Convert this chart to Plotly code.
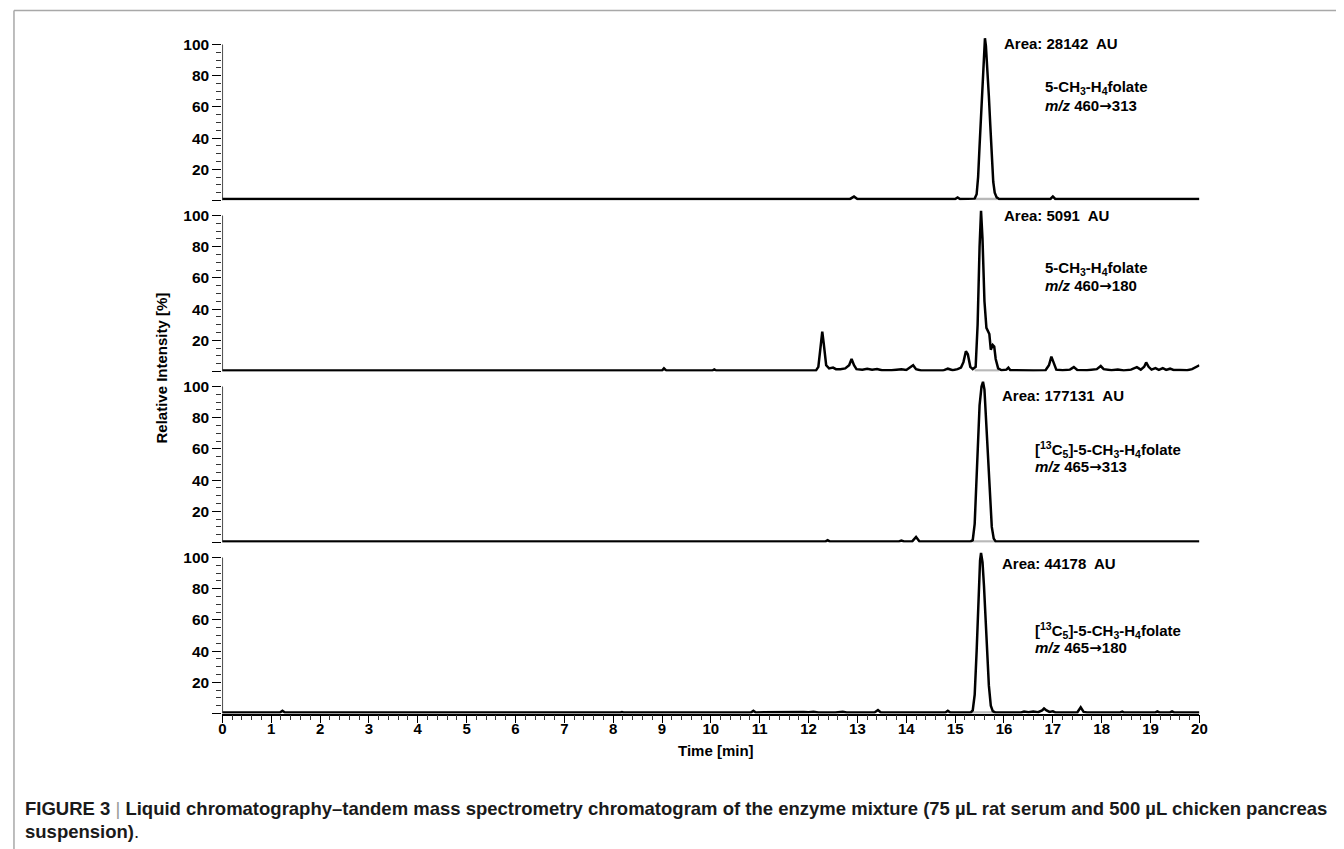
import plotly.graph_objects as go

W, H = 1344, 849

# ---------------- data ----------------
x_tick_vals = list(range(0, 21))
y_tick_vals = [0, 20, 40, 60, 80, 100]
y_tick_text = ["", "20", "40", "60", "80", "100"]
y_minor_vals = [5, 10, 15, 25, 30, 35, 45, 50, 55, 65, 70, 75, 85, 90, 95]

# Panel 1: 5-CH3-H4folate m/z 460->313
p1_time = [0, 12.85, 12.93, 13.0, 15.0, 15.05, 15.1, 15.40, 15.44, 15.47, 15.50, 15.53, 15.56,
           15.59, 15.61, 15.63, 15.66, 15.69, 15.72, 15.75, 15.78, 15.81, 15.85, 15.90,
           16.95, 17.0, 17.05, 20]
p1_int = [1, 1, 2.5, 1, 1, 2, 1, 1.2, 4, 15, 35, 55, 78,
          97, 104, 99, 85, 67, 48, 28, 12, 5, 2, 1,
          1, 2.5, 1, 1]

# Panel 2: 5-CH3-H4folate m/z 460->180
p2_time = [0, 9.0, 9.04, 9.09, 10.03, 10.07, 10.11,
           12.15, 12.20, 12.25, 12.28, 12.31, 12.36, 12.42, 12.50, 12.56, 12.65, 12.75, 12.83,
           12.88, 12.93, 12.98, 13.1, 13.2, 13.3, 13.4, 13.5, 13.7, 13.9, 14.0, 14.08, 14.14,
           14.2, 14.3, 14.75, 14.85, 14.95, 15.05, 15.12, 15.17, 15.22, 15.26, 15.31, 15.36,
           15.42, 15.46, 15.50, 15.53, 15.56, 15.60, 15.64, 15.67, 15.70, 15.73, 15.77, 15.80,
           15.83, 15.88, 15.95, 16.05, 16.09, 16.13, 16.4, 16.5, 16.6, 16.85, 16.92, 16.97,
           17.02, 17.07, 17.2, 17.35, 17.43, 17.5, 17.7, 17.9, 17.98, 18.04, 18.2, 18.33,
           18.45, 18.6, 18.72, 18.8, 18.87, 18.91, 18.96, 19.02, 19.1, 19.17, 19.25, 19.32,
           19.4, 19.47, 19.6, 19.75, 19.85, 19.95, 20]
p2_int = [0.6, 0.6, 2, 0.6, 0.6, 1.3, 0.6,
          0.6, 3, 15, 25.5, 18, 4, 2, 2.5, 1.5, 1.5, 2, 4,
          8, 4, 1.5, 1.2, 1.8, 1.2, 1.6, 0.8, 0.8, 1.4, 1.0, 2.5, 4,
          1.5, 0.6, 0.6, 1.8, 0.8, 1.5, 2.5, 6, 13, 11, 3, 1.5,
          3, 30, 80, 103, 85, 45, 28, 26, 24, 14, 17, 16,
          8, 2, 0.8, 1.2, 2.5, 0.8, 0.6, 1.0, 0.6, 0.8, 4, 9.5,
          5, 1.2, 0.8, 1.2, 2.8, 1.0, 0.8, 1.5, 3.5, 1.5, 0.8, 1.3,
          0.7, 1.2, 2.8, 1.2, 3, 5.8, 3, 1.2, 2.2, 1.0, 2.2, 1.0,
          1.8, 1.0, 1.0, 0.8, 1.5, 3, 4]

# Panel 3: [13C5]-5-CH3-H4folate m/z 465->313
p3_time = [0, 12.35, 12.39, 12.43, 13.85, 13.9, 13.95, 14.12, 14.2, 14.27,
           15.32, 15.36, 15.40, 15.45, 15.50, 15.54, 15.57, 15.60, 15.63, 15.67,
           15.71, 15.75, 15.79, 15.83, 20]
p3_int = [0.7, 0.7, 1.5, 0.7, 0.7, 1.3, 0.7, 0.7, 3.5, 0.7,
          0.7, 1.5, 12, 50, 88, 100, 103, 98, 80, 50,
          25, 10, 2.5, 0.7, 0.7]

# Panel 4: [13C5]-5-CH3-H4folate m/z 465->180
p4_time = [0, 1.18, 1.23, 1.28, 8.15, 8.18, 8.21, 8.8, 8.83, 8.86, 10.82, 10.87, 10.92,
           11.9, 12.0, 12.1, 12.2, 12.55, 12.62, 12.7, 12.78, 13.35, 13.42, 13.48,
           14.8, 14.85, 14.9, 15.32, 15.36, 15.40, 15.44, 15.48, 15.51, 15.53, 15.56,
           15.59, 15.62, 15.65, 15.69, 15.73, 15.77, 15.82, 16.35, 16.41, 16.5, 16.6,
           16.7, 16.78, 16.82, 16.87, 16.93, 17.0, 17.05, 17.5, 17.57, 17.63, 17.7,
           18.38, 18.42, 18.45, 19.1, 19.14, 19.18, 19.4, 19.44, 19.48, 20]
p4_int = [0.7, 0.7, 1.8, 0.7, 0.7, 1.0, 0.7, 0.7, 1.0, 0.7, 0.7, 1.8, 0.7,
          1.0, 0.8, 1.1, 0.7, 0.7, 1.1, 1.1, 0.7, 0.7, 2.2, 0.7,
          0.7, 1.8, 0.7, 0.7, 2, 12, 40, 78, 98, 103, 97,
          82, 60, 40, 18, 5, 1.5, 0.7, 0.7, 1.2, 0.8, 1.2,
          0.8, 2, 3.2, 2, 1, 1.4, 0.7, 0.7, 4, 1, 0.7,
          0.7, 1.2, 0.7, 0.7, 1.3, 0.7, 0.7, 1.3, 0.7, 0.7]

times = [p1_time, p2_time, p3_time, p4_time]
intens = [p1_int, p2_int, p3_int, p4_int]

# integration windows (peak start / end) and baselines
peak_start = [15.42, 15.40, 15.35, 15.34]
peak_end = [15.86, 15.90, 15.82, 15.80]
baselines = [1, 0.6, 0.7, 0.7]

ARROW = "<span style='font-family:DejaVu Sans'>→</span>"
areas = ["Area: 28142  AU", "Area: 5091  AU", "Area: 177131  AU", "Area: 44178  AU"]
compounds = ["5-CH<sub>3</sub>-H<sub>4</sub>folate",
             "5-CH<sub>3</sub>-H<sub>4</sub>folate",
             "[<sup>13</sup>C<sub>5</sub>]-5-CH<sub>3</sub>-H<sub>4</sub>folate",
             "[<sup>13</sup>C<sub>5</sub>]-5-CH<sub>3</sub>-H<sub>4</sub>folate"]
transitions = ["<i>m/z</i> 460" + ARROW + "313", "<i>m/z</i> 460" + ARROW + "180",
               "<i>m/z</i> 465" + ARROW + "313", "<i>m/z</i> 465" + ARROW + "180"]

# ---------------- geometry (pixels) ----------------
SX = 1344 / 1336          # the page renders ~8px narrower; compensate horizontally
X0_PX, X1_PX = 219, 1199
ZERO_PX = [200.5, 371.5, 542.5, 713.5]
PX_PER_UNIT = 1.56
Y_MAX = 107

area_pos = [(1001, 43), (1001, 215), (999, 395), (999, 563)]
comp_pos = [(1042, 88), (1042, 268), (1032, 449), (1032, 630)]
trans_pos = [(1042, 106), (1042, 286), (1032, 467), (1032, 648)]


def px(x):
    return min(1.0, x * SX / W)


def py(y):
    return 1 - y / H


FONT = "Liberation Sans, Arial, sans-serif"

fig = go.Figure()
shapes = []
annotations = []

for k in range(4):
    n = "" if k == 0 else str(k + 1)
    xa, ya = "x" + n, "y" + n
    # integration baseline (gray)
    fig.add_trace(go.Scatter(x=[peak_start[k], peak_end[k]], y=[baselines[k], baselines[k]],
                             mode="lines", line=dict(color="#b8b8b8", width=2.5),
                             xaxis=xa, yaxis=ya, showlegend=False, hoverinfo="skip"))
    fig.add_trace(go.Scatter(x=times[k], y=intens[k], mode="lines",
                             line=dict(color="black", width=2.5),
                             xaxis=xa, yaxis=ya, showlegend=False))

    bottom = ZERO_PX[k]
    top = ZERO_PX[k] - Y_MAX * PX_PER_UNIT
    last = (k == 3)
    xaxis_cfg = dict(domain=[px(X0_PX), px(X1_PX)], range=[0, 20], anchor=ya,
                     showgrid=False, zeroline=False, fixedrange=True)
    if last:
        xaxis_cfg.update(showline=True, linecolor="black", linewidth=1.5,
                         ticks="outside", ticklen=8, tickwidth=1.4, tickcolor="black",
                         tickmode="array", tickvals=x_tick_vals, ticklabelstandoff=-7,
                         tickfont=dict(family=FONT, size=15, color="black", weight="bold"),
                         minor=dict(ticks="outside", ticklen=5, tickwidth=1.1,
                                    tickcolor="#333333", dtick=0.2, tick0=0))
    else:
        xaxis_cfg.update(showline=False, showticklabels=False, ticks="")
    yaxis_cfg = dict(domain=[py(bottom), py(top)], range=[0, Y_MAX], anchor=xa,
                     showgrid=False, zeroline=False, showline=False, fixedrange=True,
                     ticks="outside", ticklen=9, tickwidth=1.4, tickcolor="black",
                     tickmode="array", tickvals=y_tick_vals, ticktext=y_tick_text,
                     tickfont=dict(family=FONT, size=15.5, color="black", weight="bold"),
                     minor=dict(ticks="outside", ticklen=5, tickwidth=1.1, tickcolor="#333333",
                                tickmode="array", tickvals=y_minor_vals))
    fig.update_layout(**{"xaxis" + n: xaxis_cfg, "yaxis" + n: yaxis_cfg})

    # y axis line from 0 to 100
    shapes.append(dict(type="line", xref=xa, yref=ya, x0=0, x1=0, y0=0, y1=100,
                       line=dict(color="black", width=1.4)))

    ax, ay = area_pos[k]
    annotations.append(dict(text="<b>" + areas[k] + "</b>", x=px(ax), y=py(ay),
                            xref="paper", yref="paper", xanchor="left", yanchor="middle",
                            showarrow=False, font=dict(family=FONT, size=15, color="black")))
    cx, cy = comp_pos[k]
    annotations.append(dict(text="<b>" + compounds[k] + "</b>", x=px(cx), y=py(cy),
                            xref="paper", yref="paper", xanchor="left", yanchor="middle",
                            showarrow=False, font=dict(family=FONT, size=15, color="black")))
    tx, ty = trans_pos[k]
    annotations.append(dict(text="<b>" + transitions[k] + "</b>", x=px(tx), y=py(ty),
                            xref="paper", yref="paper", xanchor="left", yanchor="middle",
                            showarrow=False, font=dict(family=FONT, size=15, color="black")))

# axis titles
annotations.append(dict(text="<b>Relative Intensity [%]</b>", x=px(157), y=py(368),
                        xref="paper", yref="paper", textangle=-90, showarrow=False,
                        xanchor="center", yanchor="middle",
                        font=dict(family=FONT, size=15, color="black")))
annotations.append(dict(text="<b>Time [min]</b>", x=px(714), y=py(750),
                        xref="paper", yref="paper", showarrow=False,
                        xanchor="center", yanchor="middle",
                        font=dict(family=FONT, size=15, color="black")))

# caption
annotations.append(dict(
    text="<b>FIGURE 3</b> <span style='color:#9a9a9a'>|</span> <b>Liquid chromatography–tandem mass "
         "spectrometry chromatogram of the enzyme mixture (75 µL rat serum and 500 µL chicken pancreas</b>",
    x=px(19), y=py(808), xref="paper", yref="paper", xanchor="left", yanchor="middle",
    showarrow=False, font=dict(family=FONT, size=18.5, color="#1a1a1a")))
annotations.append(dict(
    text="<b>suspension)</b>.",
    x=px(19), y=py(831), xref="paper", yref="paper", xanchor="left", yanchor="middle",
    showarrow=False, font=dict(family=FONT, size=18.5, color="#1a1a1a")))

# page frame
shapes.append(dict(type="line", xref="paper", yref="paper", x0=px(10), x1=1, y0=py(10.5), y1=py(10.5),
                   line=dict(color="#a8a8a8", width=1.5)))
shapes.append(dict(type="line", xref="paper", yref="paper", x0=px(10), x1=px(10), y0=py(10.5), y1=0,
                   line=dict(color="#a8a8a8", width=1.5)))

fig.update_layout(width=W, height=H, autosize=False, margin=dict(l=0, r=0, t=0, b=0),
                  paper_bgcolor="white", plot_bgcolor="white",
                  shapes=shapes, annotations=annotations, showlegend=False)

fig.write_html("out.html")
